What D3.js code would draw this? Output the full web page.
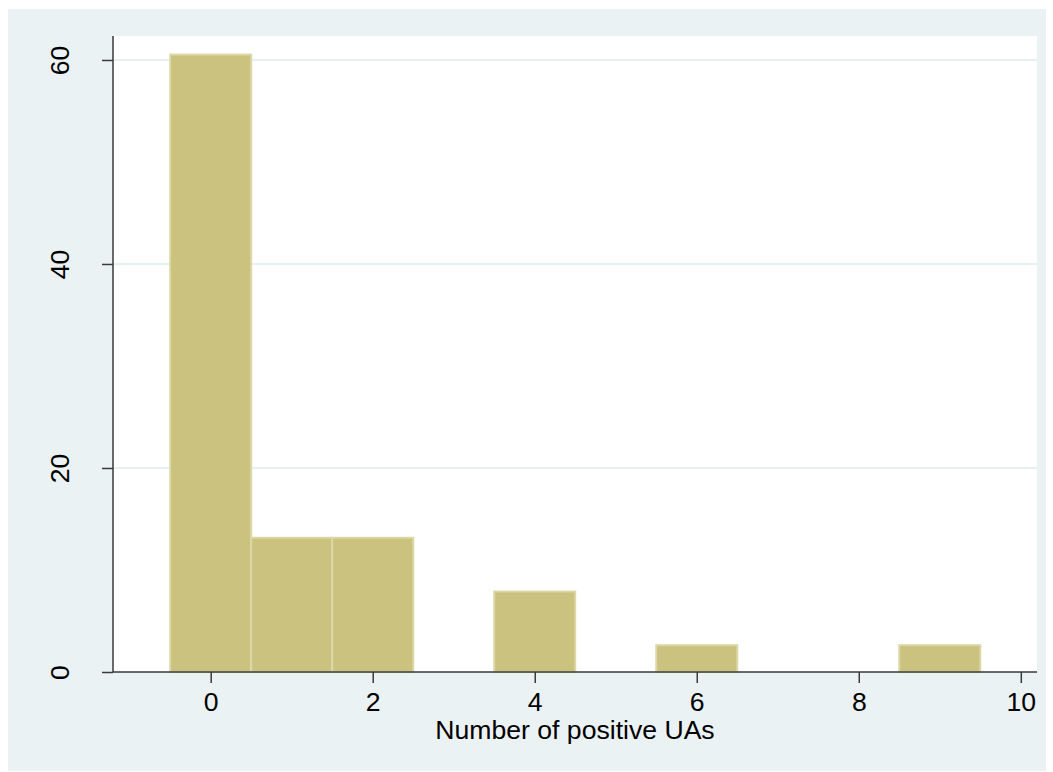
<!DOCTYPE html>
<html>
<head>
<meta charset="utf-8">
<script src="https://cdn.jsdelivr.net/npm/d3@7"></script>
<style>
  html, body { margin: 0; padding: 0; background: #ffffff; }
  svg { display: block; font-family: "Liberation Sans", Arial, sans-serif; }
</style>
</head>
<body>
<svg id="chart" width="1053" height="772"></svg>
<script>
// Data: histogram bins (Number of positive UAs), percent
const binStarts = [0, 1, 2, 4, 6, 9];
const percents = [60.53, 13.16, 13.16, 7.89, 2.63, 2.63];
const xTicks = [0, 2, 4, 6, 8, 10];
const yTicks = [0, 20, 40, 60];
const xTitle = "Number of positive UAs";

const svg = d3.select("#chart");
const plot = { left: 113, right: 1037, top: 36, bottom: 672 };
const FS = "26.6px";

// Outer background
svg.append("rect")
  .attr("x", 8).attr("y", 9)
  .attr("width", 1046 - 8).attr("height", 771 - 9)
  .attr("fill", "#eaf2f3");

// Plot area
svg.append("rect")
  .attr("x", plot.left).attr("y", plot.top)
  .attr("width", plot.right - plot.left).attr("height", plot.bottom - plot.top)
  .attr("fill", "#ffffff");

const x = d3.scaleLinear().domain([-1.206, 10.2]).range([plot.left, plot.right]);
const y = d3.scaleLinear().domain([0, 62.35]).range([plot.bottom, plot.top]);

// Gridlines
svg.append("g").selectAll("line")
  .data(yTicks.filter(d => d > 0))
  .join("line")
  .attr("x1", plot.left).attr("x2", plot.right)
  .attr("y1", d => y(d)).attr("y2", d => y(d))
  .attr("stroke", "#e6eff1").attr("stroke-width", 2);

// Bars
svg.append("g").selectAll("rect")
  .data(binStarts.map((b, i) => ({ b, v: percents[i] })))
  .join("rect")
  .attr("x", d => x(d.b - 0.5))
  .attr("width", d => x(d.b + 0.5) - x(d.b - 0.5))
  .attr("y", d => y(d.v))
  .attr("height", d => y(0) - y(d.v))
  .attr("fill", "#cac27e")
  .attr("stroke", "#dcd8a6")
  .attr("stroke-width", 2);

// X axis
const xAxis = d3.axisBottom(x).tickValues(xTicks).tickSize(11).tickPadding(9).tickFormat(d3.format("d"));
const gx = svg.append("g").attr("transform", `translate(0,${plot.bottom})`).call(xAxis);
gx.select(".domain").attr("d", `M${plot.left},0H${plot.right}`).attr("stroke", "#3a3a3a").attr("stroke-width", 1.5);
gx.selectAll(".tick line").attr("stroke", "#3a3a3a").attr("stroke-width", 1.5);
gx.selectAll(".tick text").attr("fill", "#000").style("font-size", FS)
  .style("font-family", "'Liberation Sans', Arial, sans-serif");

// Y axis
const yAxis = d3.axisLeft(y).tickValues(yTicks).tickSize(11).tickFormat(d3.format("d"));
const gy = svg.append("g").attr("transform", `translate(${plot.left},0)`).call(yAxis);
gy.select(".domain").attr("d", `M0,${plot.bottom}V${plot.top}`).attr("stroke", "#3a3a3a").attr("stroke-width", 1.5);
gy.selectAll(".tick line").attr("stroke", "#3a3a3a").attr("stroke-width", 1.5);
gy.selectAll(".tick text")
  .attr("fill", "#000")
  .style("font-size", FS)
  .style("font-family", "'Liberation Sans', Arial, sans-serif")
  .attr("x", null).attr("dy", null)
  .attr("text-anchor", "middle")
  .attr("transform", "translate(-44,0) rotate(-90)");

// X title
svg.append("text")
  .attr("x", (plot.left + plot.right) / 2)
  .attr("y", 739)
  .attr("text-anchor", "middle")
  .style("font-size", FS)
  .attr("fill", "#000")
  .text(xTitle);
</script>
</body>
</html>
